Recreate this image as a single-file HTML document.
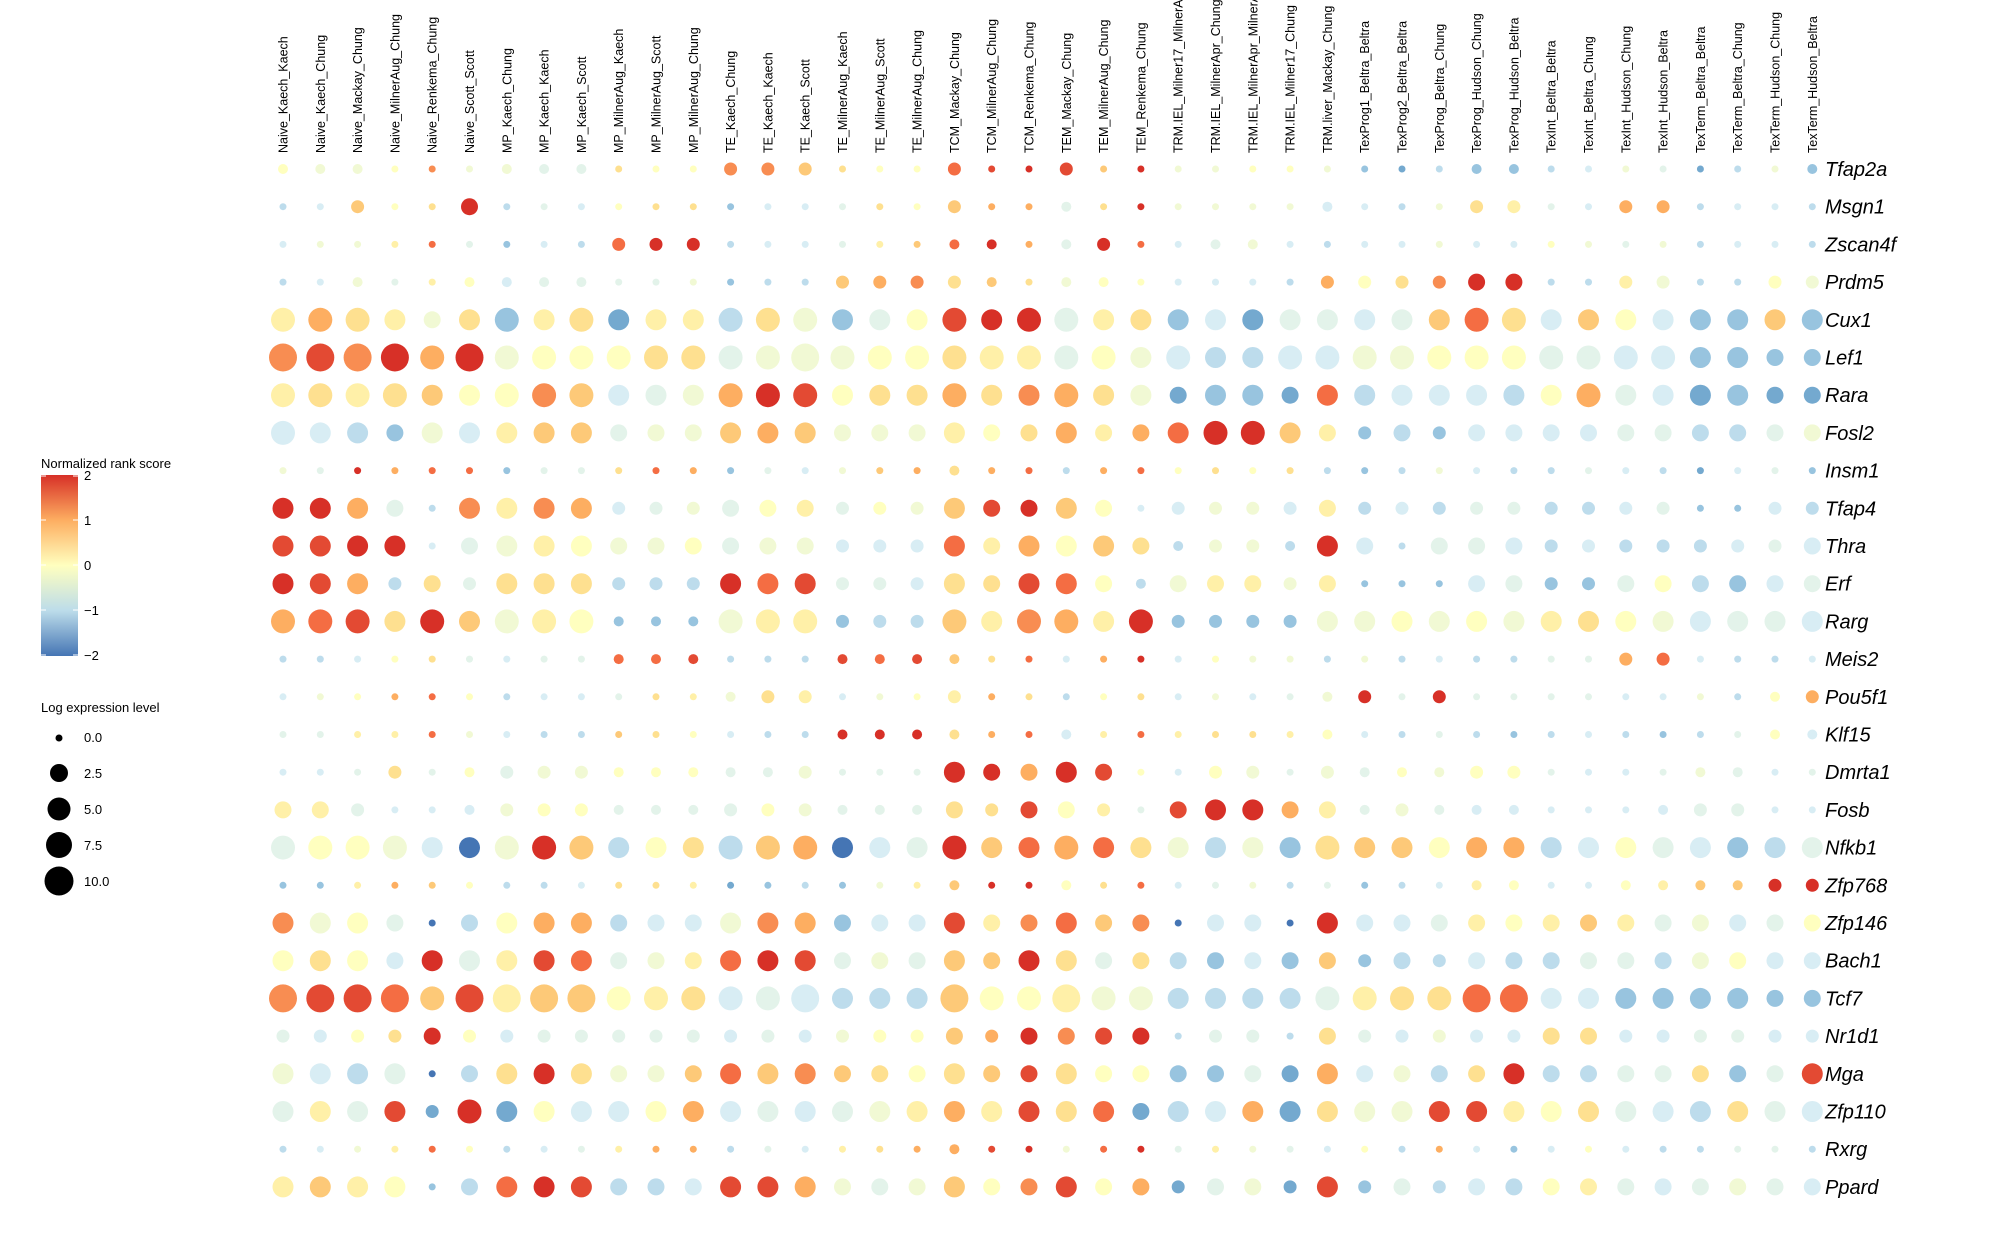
<!DOCTYPE html>
<html><head><meta charset="utf-8"><style>
html,body{margin:0;padding:0;background:#fff;width:2015px;height:1259px;overflow:hidden}
svg{display:block}
.cl{font-family:"Liberation Sans",sans-serif;font-size:12.5px;fill:#000}
.gl{font-family:"Liberation Sans",sans-serif;font-size:20px;font-style:italic;fill:#000}
.lg{font-family:"Liberation Sans",sans-serif;font-size:13px;fill:#000}
</style></head><body>
<svg id="s" width="2015" height="1259" xmlns="http://www.w3.org/2000/svg">
<defs><linearGradient id="cb" x1="0" y1="0" x2="0" y2="1">
<stop offset="0" stop-color="#d73027"/><stop offset="0.25" stop-color="#fdae61"/><stop offset="0.5" stop-color="#ffffbf"/><stop offset="0.75" stop-color="#bcdcea"/><stop offset="1" stop-color="#4575b4"/></linearGradient></defs>
<g class="cl">
<text transform="translate(287.5,153) rotate(-90)">Naive_Kaech_Kaech</text>
<text transform="translate(324.8,153) rotate(-90)">Naive_Kaech_Chung</text>
<text transform="translate(362.1,153) rotate(-90)">Naive_Mackay_Chung</text>
<text transform="translate(399.4,153) rotate(-90)">Naive_MilnerAug_Chung</text>
<text transform="translate(436.7,153) rotate(-90)">Naive_Renkema_Chung</text>
<text transform="translate(474,153) rotate(-90)">Naive_Scott_Scott</text>
<text transform="translate(511.3,153) rotate(-90)">MP_Kaech_Chung</text>
<text transform="translate(548.6,153) rotate(-90)">MP_Kaech_Kaech</text>
<text transform="translate(585.9,153) rotate(-90)">MP_Kaech_Scott</text>
<text transform="translate(623.2,153) rotate(-90)">MP_MilnerAug_Kaech</text>
<text transform="translate(660.5,153) rotate(-90)">MP_MilnerAug_Scott</text>
<text transform="translate(697.8,153) rotate(-90)">MP_MilnerAug_Chung</text>
<text transform="translate(735.1,153) rotate(-90)">TE_Kaech_Chung</text>
<text transform="translate(772.4,153) rotate(-90)">TE_Kaech_Kaech</text>
<text transform="translate(809.7,153) rotate(-90)">TE_Kaech_Scott</text>
<text transform="translate(847,153) rotate(-90)">TE_MilnerAug_Kaech</text>
<text transform="translate(884.3,153) rotate(-90)">TE_MilnerAug_Scott</text>
<text transform="translate(921.6,153) rotate(-90)">TE_MilnerAug_Chung</text>
<text transform="translate(958.9,153) rotate(-90)">TCM_Mackay_Chung</text>
<text transform="translate(996.2,153) rotate(-90)">TCM_MilnerAug_Chung</text>
<text transform="translate(1033.5,153) rotate(-90)">TCM_Renkema_Chung</text>
<text transform="translate(1070.8,153) rotate(-90)">TEM_Mackay_Chung</text>
<text transform="translate(1108.1,153) rotate(-90)">TEM_MilnerAug_Chung</text>
<text transform="translate(1145.4,153) rotate(-90)">TEM_Renkema_Chung</text>
<text transform="translate(1182.7,153) rotate(-90)">TRM.IEL_Milner17_MilnerAug</text>
<text transform="translate(1220,153) rotate(-90)">TRM.IEL_MilnerApr_Chung</text>
<text transform="translate(1257.3,153) rotate(-90)">TRM.IEL_MilnerApr_MilnerAug</text>
<text transform="translate(1294.6,153) rotate(-90)">TRM.IEL_Milner17_Chung</text>
<text transform="translate(1331.9,153) rotate(-90)">TRM.liver_Mackay_Chung</text>
<text transform="translate(1369.2,153) rotate(-90)">TexProg1_Beltra_Beltra</text>
<text transform="translate(1406.5,153) rotate(-90)">TexProg2_Beltra_Beltra</text>
<text transform="translate(1443.8,153) rotate(-90)">TexProg_Beltra_Chung</text>
<text transform="translate(1481.1,153) rotate(-90)">TexProg_Hudson_Chung</text>
<text transform="translate(1518.4,153) rotate(-90)">TexProg_Hudson_Beltra</text>
<text transform="translate(1555.7,153) rotate(-90)">TexInt_Beltra_Beltra</text>
<text transform="translate(1593,153) rotate(-90)">TexInt_Beltra_Chung</text>
<text transform="translate(1630.3,153) rotate(-90)">TexInt_Hudson_Chung</text>
<text transform="translate(1667.6,153) rotate(-90)">TexInt_Hudson_Beltra</text>
<text transform="translate(1704.9,153) rotate(-90)">TexTerm_Beltra_Beltra</text>
<text transform="translate(1742.2,153) rotate(-90)">TexTerm_Beltra_Chung</text>
<text transform="translate(1779.5,153) rotate(-90)">TexTerm_Hudson_Chung</text>
<text transform="translate(1816.8,153) rotate(-90)">TexTerm_Hudson_Beltra</text>
</g>
<g class="gl">
<text x="1825" y="176">Tfap2a</text>
<text x="1825" y="213.7">Msgn1</text>
<text x="1825" y="251.4">Zscan4f</text>
<text x="1825" y="289.1">Prdm5</text>
<text x="1825" y="326.8">Cux1</text>
<text x="1825" y="364.5">Lef1</text>
<text x="1825" y="402.2">Rara</text>
<text x="1825" y="439.9">Fosl2</text>
<text x="1825" y="477.6">Insm1</text>
<text x="1825" y="515.3">Tfap4</text>
<text x="1825" y="553">Thra</text>
<text x="1825" y="590.7">Erf</text>
<text x="1825" y="628.4">Rarg</text>
<text x="1825" y="666.1">Meis2</text>
<text x="1825" y="703.8">Pou5f1</text>
<text x="1825" y="741.5">Klf15</text>
<text x="1825" y="779.2">Dmrta1</text>
<text x="1825" y="816.9">Fosb</text>
<text x="1825" y="854.6">Nfkb1</text>
<text x="1825" y="892.3">Zfp768</text>
<text x="1825" y="930">Zfp146</text>
<text x="1825" y="967.7">Bach1</text>
<text x="1825" y="1005.4">Tcf7</text>
<text x="1825" y="1043.1">Nr1d1</text>
<text x="1825" y="1080.8">Mga</text>
<text x="1825" y="1118.5">Zfp110</text>
<text x="1825" y="1156.2">Rxrg</text>
<text x="1825" y="1193.9">Ppard</text>
</g>
<g class="lg">
<text x="41" y="468">Normalized rank score</text>
<rect x="41" y="475" width="37" height="181" fill="url(#cb)"/>
<g stroke="#fff" stroke-width="1">
<line x1="41" y1="476" x2="46" y2="476"/><line x1="73" y1="476" x2="78" y2="476"/>
<line x1="41" y1="520" x2="46" y2="520"/><line x1="73" y1="520" x2="78" y2="520"/>
<line x1="41" y1="565" x2="46" y2="565"/><line x1="73" y1="565" x2="78" y2="565"/>
<line x1="41" y1="610" x2="46" y2="610"/><line x1="73" y1="610" x2="78" y2="610"/>
<line x1="41" y1="655" x2="46" y2="655"/><line x1="73" y1="655" x2="78" y2="655"/>
</g>
<text x="84" y="480">2</text>
<text x="84" y="525">1</text>
<text x="84" y="570">0</text>
<text x="84" y="615">−1</text>
<text x="84" y="660">−2</text>
<text x="41" y="712">Log expression level</text>
<circle cx="59" cy="738" r="3.5" fill="#000"/>
<circle cx="59" cy="773" r="9" fill="#000"/>
<circle cx="59" cy="809" r="11.5" fill="#000"/>
<circle cx="59" cy="845" r="13" fill="#000"/>
<circle cx="59" cy="881" r="14.5" fill="#000"/>
<text x="84" y="742">0.0</text>
<text x="84" y="778">2.5</text>
<text x="84" y="814">5.0</text>
<text x="84" y="850">7.5</text>
<text x="84" y="886">10.0</text>
</g>
<g id="dots"></g>
</svg>
<script>
var C={R:"#d73027",r:"#e34a33",O:"#f46d43",o:"#f88d52",A:"#fdae61",a:"#fdc978",y:"#fee090",Y:"#fff0a8",W:"#ffffbf",w:"#f1f9d4",e:"#e3f3ea",g:"#d8edf4",b:"#bddcec",B:"#98c4df",N:"#74a9cf",M:"#4575b4"};
var S={1:7,2:10,3:13,4:17,5:21,6:24,7:28};
var rows=[
"W2 w2 w2 W1 o1 w1 w2 e2 e2 y1 W1 W1 o3 o3 a3 y1 W1 W1 O3 r1 R1 r3 a1 R1 w1 w1 W1 W1 w1 B1 N1 b1 B2 B2 b1 g1 w1 e1 N1 b1 w1 B2",
"b1 g1 a3 W1 y1 R4 b1 e1 g1 W1 y1 y1 B1 g1 g1 e1 y1 W1 a3 A1 A1 e2 y1 R1 w1 w1 w1 w1 g2 g1 b1 w1 y3 Y3 e1 g1 A3 A3 b1 g1 g1 b1",
"g1 w1 w1 Y1 O1 e1 B1 g1 b1 O3 R3 R3 b1 g1 g1 e1 Y1 a1 O2 R2 A1 e2 R3 O1 g1 e2 w2 g1 b1 g1 g1 w1 g1 g1 W1 w1 e1 w1 b1 g1 g1 b1",
"b1 g1 w2 e1 Y1 W2 g2 e2 e2 e1 e1 w1 B1 b1 b1 a3 A3 o3 y3 a2 y1 w2 W2 W1 g1 g1 g1 b1 A3 W3 y3 o3 R4 R4 b1 b1 Y3 w3 b1 b1 W3 w3",
"Y6 A6 y6 Y5 w4 y5 B6 Y5 y6 N5 Y5 Y5 b6 y6 w6 B5 e5 W5 r6 R5 R6 e6 Y5 y5 B5 g5 N5 e5 e5 g5 e5 a5 O6 y6 g5 a5 W5 g5 B5 B5 a5 B5",
"o7 r7 o7 R7 A6 R7 w6 W6 W6 W6 y6 y6 e6 w6 w7 w6 W6 W6 y6 Y6 Y6 e6 W6 w5 g6 b5 b5 g6 g6 w6 w6 W6 W6 W6 e6 e6 g6 g6 B5 B5 B4 B4",
"Y6 y6 Y6 y6 a5 W5 W6 o6 a6 g5 e5 w5 A6 R6 r6 W5 y5 y5 A6 y5 o5 A6 y5 w5 N4 B5 B5 N4 O5 b5 g5 g5 g5 b5 W5 A6 e5 g5 N5 B5 N4 N4",
"g6 g5 b5 B4 w5 g5 Y5 a5 a5 e4 w4 w4 a5 A5 a5 w4 w4 w4 Y5 W4 y4 A5 Y4 A4 O5 R6 R6 a5 Y4 B3 b4 B3 g4 g4 g4 g4 e4 e4 b4 b4 e4 w4",
"w1 e1 R1 A1 O1 O1 B1 e1 e1 y1 O1 A1 B1 e1 g1 w1 a1 A1 y2 A1 O1 b1 A1 O1 W1 y1 W1 y1 b1 B1 b1 w1 g1 b1 b1 e1 g1 b1 N1 g1 e1 B1",
"R5 R5 A5 e4 b1 o5 Y5 o5 A5 g3 e3 w3 e4 W4 Y4 e3 W3 w3 a5 r4 R4 a5 W4 g1 g3 w3 w3 g3 Y4 b3 g3 b3 e3 e3 b3 b3 g3 e3 B1 B1 g3 b3",
"r5 r5 R5 R5 g1 e4 w5 Y5 W5 w4 w4 W4 e4 w4 w4 g3 g3 g3 O5 Y4 A5 W5 a5 y4 b2 w3 w3 b2 R5 g4 b1 e4 e4 g4 b3 g3 b3 b3 b3 g3 e3 g4",
"R5 r5 A5 b3 y4 e3 y5 y5 y5 b3 b3 b3 R5 O5 r5 e3 e3 g3 y5 y4 r5 O5 W4 b2 w4 Y4 Y4 w3 Y4 B1 B1 B1 g4 e4 B3 B3 e4 W4 b4 B4 g4 e4",
"A6 O6 r6 y5 R6 a5 w6 Y6 W6 B2 B2 B2 w6 Y6 Y6 B3 b3 b3 a6 Y5 o6 A6 Y5 R6 B3 B3 B3 B3 w5 w5 W5 w5 W5 w5 Y5 y5 W5 w5 g5 e5 e5 g5",
"b1 b1 g1 W1 y1 e1 g1 e1 e1 O2 O2 r2 b1 b1 b1 r2 O2 r2 a2 y1 O1 g1 A1 R1 g1 W1 w1 w1 b1 w1 b1 g1 b1 b1 e1 e1 A3 O3 g1 b1 b1 g1",
"g1 w1 W1 A1 O1 W1 b1 g1 g1 e1 y1 Y1 w2 y3 Y3 g1 w1 W1 Y3 A1 y1 b1 W1 y1 g1 w1 g1 e1 w2 R3 e1 R3 e1 e1 e1 e1 g1 g1 w1 b1 W2 A3",
"e1 e1 Y1 Y1 O1 w1 g1 b1 b1 a1 y1 W1 g1 b1 b1 R2 R2 R2 y2 A1 O1 g2 Y1 O1 Y1 y1 y1 Y1 W2 g1 b1 e1 b1 B1 b1 g1 b1 B1 b1 e1 W2 g2",
"g1 g1 e1 y3 e1 W2 e3 w3 w3 W2 W2 W2 e2 e2 w3 e1 e1 e1 R5 R4 A4 R5 r4 W1 g1 W3 w3 e1 w3 e2 W2 w2 W3 W3 e1 g1 g1 e1 w2 e2 g1 e1",
"Y4 Y4 e3 g1 g1 g2 w3 W3 W3 e2 e2 e2 e3 W3 w3 e2 e2 e2 y4 y3 r4 W4 Y3 e1 r4 R5 R5 A4 Y4 e2 w3 e2 g2 g2 g1 g1 g1 g2 e3 e3 g1 g1",
"e6 W6 W6 w6 g5 M5 w6 R6 a6 b5 W5 y5 b6 a6 A6 M5 g5 e5 R6 a5 O5 A6 O5 y5 w5 b5 w5 B5 y6 a5 a5 W5 A5 A5 b5 g5 W5 e5 g5 B5 b5 e5",
"B1 B1 Y1 A1 a1 W1 b1 b1 g1 y1 y1 Y1 N1 B1 b1 B1 w1 Y1 a2 R1 R1 W2 y1 O1 g1 e1 w1 b1 e1 B1 b1 g1 Y2 W2 g1 g1 W2 Y2 a2 a2 R3 R3",
"o5 w5 W5 e4 M1 b4 W5 A5 A5 b4 g4 g4 w5 o5 A5 B4 g4 g4 r5 Y4 o4 O5 a4 o4 M1 g4 g4 M1 R5 g4 g4 e4 Y4 W4 Y4 a4 Y4 e4 w4 g4 e4 W4",
"W5 y5 W5 g4 R5 e5 Y5 r5 O5 e4 w4 Y4 O5 R5 r5 e4 w4 e4 a5 a4 R5 y5 e4 y4 b4 B4 g4 B4 a4 B3 b4 b3 g4 b4 b4 e4 e4 b4 w4 W4 g4 g4",
"o7 r7 r7 O7 a6 r7 Y7 a7 a7 W6 Y6 y6 g6 e6 g7 b5 b5 b5 a7 W6 W6 Y7 w6 w6 b5 b5 b5 b5 e6 Y6 y6 y6 O7 O7 g5 g5 B5 B5 B5 B5 B4 B4",
"e3 g3 W3 y3 R4 W3 g3 e3 e3 e3 e3 e3 g3 e3 g3 w3 W3 W3 a4 A3 R4 o4 r4 R4 b1 e3 e3 b1 y4 e3 g3 w3 g3 g3 y4 y4 g3 g3 e3 e3 g3 g3",
"w5 g5 b5 e5 M1 b4 y5 R5 y5 w4 w4 a4 O5 a5 o5 a4 y4 W4 y5 a4 r4 y5 W4 W4 B4 B4 e4 N4 A5 g4 w4 b4 y4 R5 b4 b4 e4 e4 y4 B4 e4 r5",
"e5 Y5 e5 r5 N3 R6 N5 W5 g5 g5 W5 A5 g5 e5 g5 e5 w5 Y5 A5 Y5 r5 y5 O5 N4 b5 g5 A5 N5 y5 w5 w5 r5 r5 Y5 W5 y5 e5 g5 b5 y5 e5 g5",
"b1 g1 w1 Y1 O1 W1 b1 g1 e1 Y1 A1 A1 b1 e1 g1 Y1 y1 A1 A2 r1 R1 w1 O1 R1 e1 Y1 w1 e1 g1 W1 b1 A1 g1 B1 g1 W1 g1 b1 b1 e1 e1 b1",
"Y5 a5 Y5 W5 B1 b4 O5 R5 r5 b4 b4 g4 r5 r5 A5 w4 e4 w4 a5 W4 o4 r5 W4 A4 N3 e4 w4 N3 r5 B3 e4 b3 g4 b4 W4 Y4 e4 g4 e4 w4 e4 g4"
];
var g=document.getElementById("dots"),h="";
rows.forEach(function(r,j){r.split(" ").forEach(function(t,i){
var x=283+37.3*i,y=169+37.7*j;
h+='<circle cx="'+x.toFixed(1)+'" cy="'+y.toFixed(1)+'" r="'+(S[t[1]]/2)+'" fill="'+C[t[0]]+'"/>';});});
g.innerHTML=h;
</script>
</body></html>
